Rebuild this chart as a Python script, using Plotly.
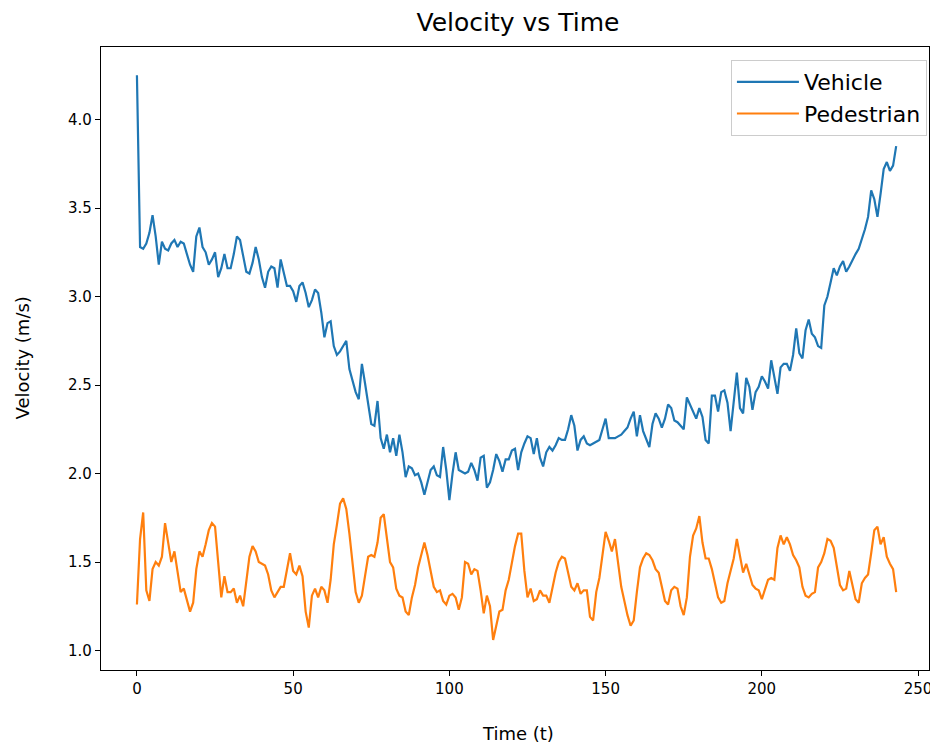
import plotly.graph_objects as go

vehicle = [
    4.25, 3.28, 3.27, 3.30, 3.36, 3.46, 3.34, 3.18, 3.31, 3.27,
    3.26, 3.30, 3.32, 3.28, 3.31, 3.30, 3.24, 3.18, 3.14, 3.34,
    3.39, 3.28, 3.25, 3.18, 3.21, 3.25, 3.11, 3.16, 3.24, 3.16,
    3.16, 3.24, 3.34, 3.32, 3.23, 3.14, 3.13, 3.19, 3.28, 3.21,
    3.11, 3.05, 3.14, 3.17, 3.16, 3.05, 3.21, 3.14, 3.06, 3.06,
    3.03, 2.97, 3.06, 3.08, 3.02, 2.94, 2.98, 3.04, 3.02, 2.91,
    2.77, 2.85, 2.86, 2.72, 2.67, 2.69, 2.72, 2.75, 2.59, 2.52,
    2.46, 2.42, 2.62, 2.51, 2.38, 2.28, 2.27, 2.41, 2.20, 2.14,
    2.22, 2.12, 2.20, 2.10, 2.22, 2.12, 1.98, 2.04, 2.03, 1.99,
    2.00, 1.95, 1.88, 1.95, 2.02, 2.04, 1.99, 1.98, 2.15, 2.02,
    1.85, 2.00, 2.12, 2.02, 2.01, 2.00, 2.01, 2.06, 2.02, 1.96,
    2.09, 2.10, 1.92, 1.95, 2.02, 2.11, 2.07, 2.01, 2.08, 2.08,
    2.13, 2.14, 2.02, 2.12, 2.17, 2.21, 2.20, 2.11, 2.20, 2.09,
    2.04, 2.12, 2.15, 2.13, 2.16, 2.20, 2.19, 2.19, 2.25, 2.33,
    2.27, 2.13, 2.19, 2.21, 2.17, 2.16, 2.17, 2.18, 2.19, 2.25,
    2.31, 2.20, 2.20, 2.20, 2.21, 2.22, 2.24, 2.26, 2.31, 2.35,
    2.21, 2.33, 2.24, 2.19, 2.15, 2.28, 2.34, 2.31, 2.26, 2.31,
    2.39, 2.37, 2.30, 2.29, 2.27, 2.25, 2.43, 2.39, 2.34, 2.31,
    2.37, 2.32, 2.19, 2.17, 2.44, 2.44, 2.35, 2.46, 2.47, 2.40,
    2.24, 2.40, 2.57, 2.37, 2.34, 2.54, 2.49, 2.36, 2.46, 2.49,
    2.55, 2.52, 2.48, 2.64, 2.54, 2.45, 2.60, 2.62, 2.62, 2.58,
    2.67, 2.82, 2.68, 2.65, 2.81, 2.87, 2.79, 2.77, 2.72, 2.71,
    2.95, 3.00, 3.08, 3.16, 3.12, 3.17, 3.20, 3.14, 3.17, 3.21,
    3.24, 3.27, 3.32, 3.38, 3.45, 3.60, 3.55, 3.45, 3.58, 3.72,
    3.76, 3.71, 3.74, 3.85,
]

pedestrian = [
    1.26, 1.63, 1.78, 1.34, 1.28, 1.46, 1.50, 1.48, 1.53, 1.72,
    1.61, 1.50, 1.56, 1.44, 1.33, 1.35, 1.29, 1.22, 1.27, 1.46,
    1.56, 1.53, 1.60, 1.68, 1.72, 1.70, 1.50, 1.30, 1.42, 1.33,
    1.33, 1.35, 1.27, 1.31, 1.25, 1.40, 1.53, 1.59, 1.56, 1.50,
    1.49, 1.48, 1.43, 1.34, 1.30, 1.33, 1.36, 1.36, 1.45, 1.55,
    1.45, 1.43, 1.48, 1.42, 1.22, 1.13, 1.31, 1.35, 1.30, 1.36,
    1.34, 1.27, 1.40, 1.60, 1.71, 1.83, 1.86, 1.80, 1.66, 1.48,
    1.33, 1.27, 1.31, 1.42, 1.53, 1.54, 1.53, 1.61, 1.75, 1.77,
    1.63, 1.50, 1.47, 1.35, 1.31, 1.30, 1.22, 1.20, 1.30, 1.37,
    1.47, 1.54, 1.61, 1.54, 1.44, 1.36, 1.33, 1.34, 1.28, 1.26,
    1.31, 1.32, 1.30, 1.23, 1.30, 1.50, 1.49, 1.43, 1.46, 1.45,
    1.34, 1.21, 1.31, 1.25, 1.06, 1.14, 1.22, 1.23, 1.34, 1.40,
    1.50, 1.59, 1.66, 1.66, 1.45, 1.30, 1.35, 1.28, 1.29, 1.34,
    1.31, 1.31, 1.27, 1.35, 1.44, 1.50, 1.53, 1.52, 1.43, 1.36,
    1.34, 1.38, 1.32, 1.34, 1.34, 1.19, 1.17, 1.33, 1.41, 1.54,
    1.67, 1.62, 1.56, 1.63, 1.50, 1.36, 1.28, 1.20, 1.14, 1.17,
    1.33, 1.47, 1.52, 1.55, 1.54, 1.51, 1.46, 1.44, 1.36, 1.28,
    1.26, 1.34, 1.36, 1.35, 1.25, 1.20, 1.30, 1.53, 1.65, 1.69,
    1.76, 1.61, 1.52, 1.52, 1.46, 1.37, 1.30, 1.27, 1.28, 1.38,
    1.45, 1.52, 1.63, 1.54, 1.44, 1.49, 1.43, 1.37, 1.35, 1.34,
    1.29, 1.35, 1.40, 1.41, 1.40, 1.58, 1.65, 1.60, 1.64, 1.60,
    1.54, 1.51, 1.47, 1.36, 1.31, 1.30, 1.32, 1.33, 1.47, 1.50,
    1.55, 1.63, 1.62, 1.58, 1.48, 1.37, 1.34, 1.35, 1.45, 1.37,
    1.29, 1.27, 1.38, 1.41, 1.43, 1.55, 1.68, 1.70, 1.60, 1.64,
    1.53, 1.49, 1.46, 1.33,
]

time_v = list(range(len(vehicle)))
time_p = list(range(len(pedestrian)))

x_ticks = [0, 50, 100, 150, 200, 250]
y_ticks = [1.0, 1.5, 2.0, 2.5, 3.0, 3.5, 4.0]

FONT = "DejaVu Sans"
W, H = 930, 742  # page body adds an 8px margin
ML, MR, MT, MB = 93, 9, 39, 80
PW, PH = W - ML - MR, H - MT - MB

fig = go.Figure()
fig.add_trace(go.Scatter(x=time_v, y=vehicle, mode="lines", name="Vehicle",
                         line=dict(color="#1f77b4", width=2.2)))
fig.add_trace(go.Scatter(x=time_p, y=pedestrian, mode="lines", name="Pedestrian",
                         line=dict(color="#ff7f0e", width=2.2)))

axis_common = dict(showgrid=False, zeroline=False, showline=True, mirror=True,
                   linecolor="black", linewidth=1.2, ticks="outside", ticklen=5,
                   tickwidth=1.2, tickcolor="black", automargin=False,
                   tickfont=dict(family=FONT, size=15, color="black"))

label_font = dict(family=FONT, size=18, color="black")

fig.update_layout(
    width=W, height=H,
    paper_bgcolor="white", plot_bgcolor="white",
    margin=dict(l=ML, r=MR, t=MT, b=MB),
    title=dict(text="Velocity vs Time", x=510 / W, xanchor="center",
               y=1 - 5 / H, yanchor="top", yref="container",
               font=dict(family=FONT, size=25, color="black")),
    xaxis=dict(range=[-11.5, 253.5], tickvals=x_ticks,
               ticktext=[str(v) for v in x_ticks], **axis_common),
    yaxis=dict(range=[0.89, 4.41], tickvals=y_ticks,
               ticktext=[f"{v:.1f}" for v in y_ticks], **axis_common),
    legend=dict(x=0.9975, y=0.979, xanchor="right", yanchor="top",
                bgcolor="rgba(255,255,255,0.8)", bordercolor="#cccccc",
                borderwidth=1, font=dict(family=FONT, size=22, color="black"),
                itemwidth=62, tracegroupgap=4),
    showlegend=True,
    annotations=[
        dict(text="Time (t)", xref="paper", yref="paper",
             x=(510 - ML) / PW, y=(MT + PH - 725) / PH,
             xanchor="center", yanchor="middle", showarrow=False,
             font=label_font),
        dict(text="Velocity (m/s)", xref="paper", yref="paper",
             x=(14 - ML) / PW, y=0.5, textangle=-90,
             xanchor="center", yanchor="middle", showarrow=False,
             font=label_font),
    ],
)

fig.write_html("out.html")
